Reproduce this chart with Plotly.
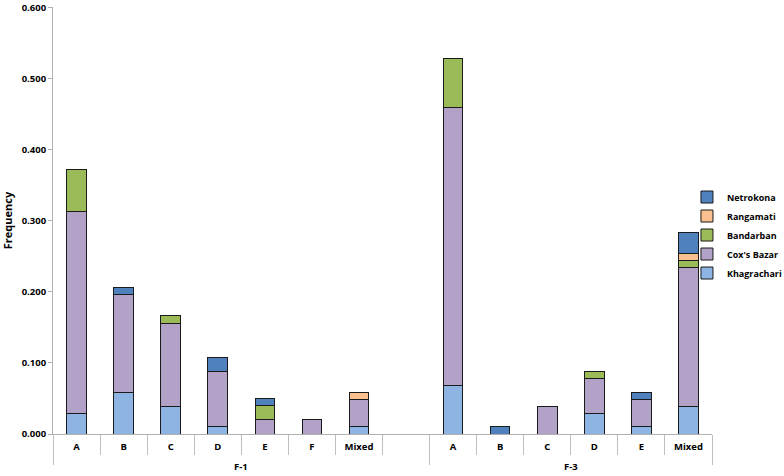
import plotly.graph_objects as go

group_names = ["F-1", "F-3"]
group_sizes = [8, 6]
categories = ["A", "B", "C", "D", "E", "F", "Mixed", " ", "A", "B", "C", "D", "E", "Mixed"]

khagrachari = [0.029, 0.059, 0.039, 0.010, None, None, 0.010, None, 0.068, None, None, 0.029, 0.010, 0.039]
coxs_bazar = [0.284, 0.137, 0.117, 0.078, 0.020, 0.020, 0.039, None, 0.392, None, 0.039, 0.049, 0.039, 0.195]
bandarban = [0.059, None, 0.011, None, 0.020, None, None, None, 0.069, None, None, 0.010, None, 0.010]
rangamati = [None, None, None, None, None, None, 0.010, None, None, None, None, None, None, 0.010]
netrokona = [None, 0.010, None, 0.020, 0.010, None, None, None, None, 0.010, None, None, 0.010, 0.029]

y_ticks = [0.0, 0.1, 0.2, 0.3, 0.4, 0.5, 0.6]

series = [
    ("Khagrachari", khagrachari, "#8DB4E2"),
    ("Cox's Bazar", coxs_bazar, "#B3A2C7"),
    ("Bandarban", bandarban, "#9BBB59"),
    ("Rangamati", rangamati, "#FAC090"),
    ("Netrokona", netrokona, "#4F81BD"),
]

# Group keys are blank (distinct) so plotly draws dividers; names are shown as annotations below
group_keys = []
for i, n in enumerate(group_sizes):
    group_keys += [" " * (i + 1)] * n

fig = go.Figure()
for name, vals, color in series:
    fig.add_trace(go.Bar(
        name=name,
        x=[group_keys, categories],
        y=vals,
        marker=dict(color=color, line=dict(color="#1a1a1a", width=1)),
    ))

font = dict(family="Open Sans, Arial, sans-serif", size=9.5, color="#000", weight="bold")

total = sum(group_sizes)
start = 0
for gname, n in zip(group_names, group_sizes):
    center = (start + n / 2) / total
    fig.add_annotation(
        text=gname, xref="paper", yref="paper", x=center, y=-0.075,
        showarrow=False, font=font, xanchor="center", yanchor="middle",
    )
    start += n

fig.update_layout(
    barmode="stack",
    bargap=0.585,
    width=784,
    height=476,
    margin=dict(l=53, r=72, t=7, b=42, autoexpand=False),
    paper_bgcolor="white",
    plot_bgcolor="white",
    font=font,
    showlegend=True,
    legend=dict(
        traceorder="reversed",
        x=0.962, xanchor="left", y=0.466, yanchor="middle",
        bgcolor="rgba(0,0,0,0)",
        font=dict(family="Open Sans, Arial, sans-serif", size=9, color="#000", weight="bold"),
        itemwidth=30,
        tracegroupgap=0,
    ),
    xaxis=dict(
        type="multicategory",
        automargin=False,
        showline=True, linecolor="#b0b0b0", linewidth=1,
        ticks="outside", tickson="boundaries", ticklen=20, tickcolor="#c0c0c0",
        showdividers=True, dividercolor="#c0c0c0", dividerwidth=1,
        ticklabelstandoff=4,
        tickfont=font,
        showgrid=False,
    ),
    yaxis=dict(
        automargin=False,
        range=[0, 0.6008],
        tickvals=y_ticks,
        tickformat=".3f",
        showline=True, linecolor="#b0b0b0", linewidth=1,
        ticks="outside", ticklen=4, tickcolor="#b0b0b0",
        showgrid=False, zeroline=False,
        title=dict(text="Frequency", font=dict(family="Open Sans, Arial, sans-serif", size=11, color="#000", weight="bold"), standoff=7),
        tickfont=font,
    ),
)

fig.write_html(
    "out.html",
    config={"displayModeBar": False},
    post_script="document.body.style.margin='0';",
)
